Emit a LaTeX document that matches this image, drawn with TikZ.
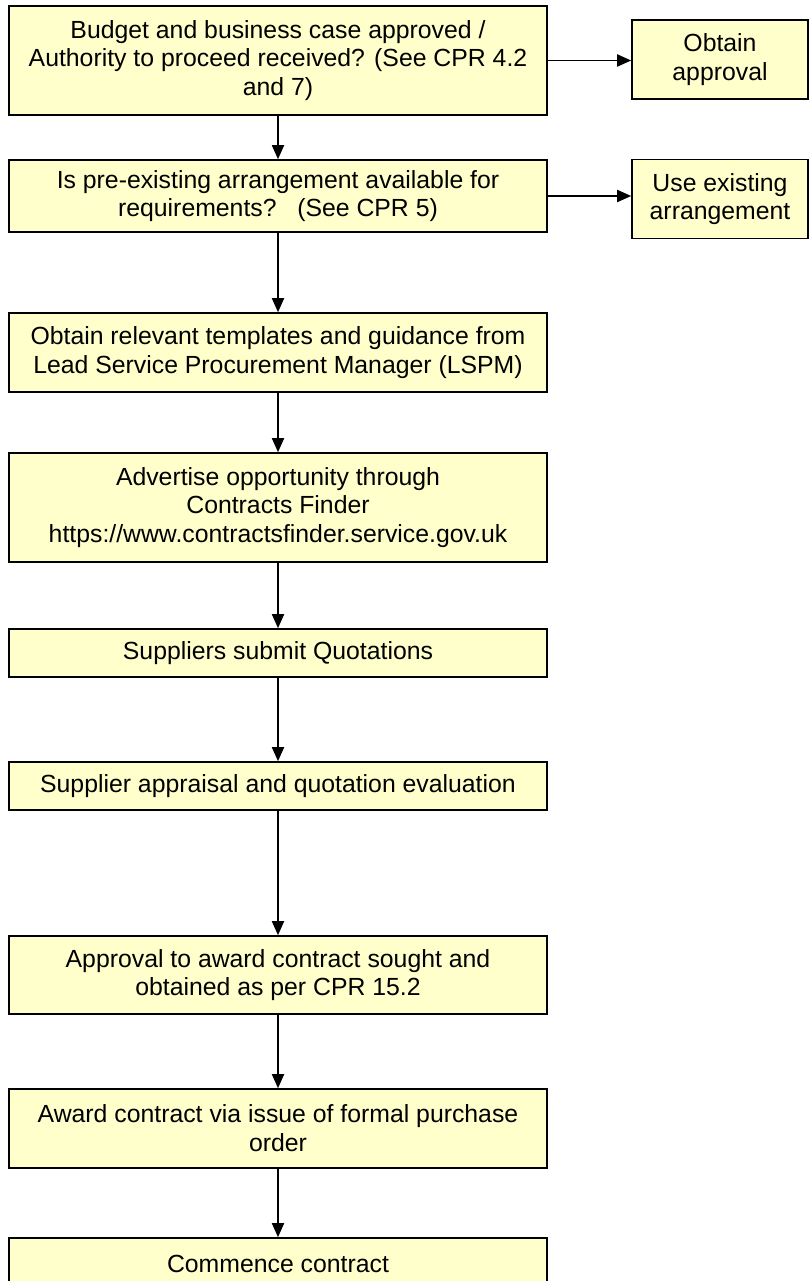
\documentclass[tikz,border=0pt]{standalone}
\usepackage{fontspec}
\setmainfont{Liberation Sans}
\usetikzlibrary{arrows.meta}
\definecolor{boxfill}{RGB}{255,255,204}

\begin{document}
\begin{tikzpicture}[x=1pt,y=-1pt]
\tikzset{stage/.style = {shape=rectangle,draw,fill=boxfill,line width=1.6pt,align=center,minimum width=538pt,inner sep=2pt,font=\fontsize{24.8}{28.8}\selectfont}}
\tikzset{side/.style = {stage,minimum width=176pt,minimum height=79pt}}
\tikzset{edge/.style = {-{Triangle[length=14pt,width=12pt]},line width=1.8pt}}

\useasboundingbox (0,0) rectangle (809,1281);

% stages

\node[stage,minimum height=109pt] (budget) at (278,60.5) {Budget and business case approved /\\Authority to proceed received? (See CPR 4.2\\and 7)};
\node[stage,minimum height=72pt] (existing) at (278,196) {Is pre-existing arrangement available for\\requirements?~~~(See CPR 5)};
\node[stage,minimum height=79pt] (templates) at (278,352.5) {Obtain relevant templates and guidance from\\Lead Service Procurement Manager (LSPM)};
\node[stage,minimum height=109pt] (advertise) at (278,507.5) {Advertise opportunity through\\Contracts Finder\\https://www.contractsfinder.service.gov.uk};
\node[stage,minimum height=48pt] (quotes) at (278,653) {Suppliers submit Quotations};
\node[stage,minimum height=48pt] (appraisal) at (278,786) {Supplier appraisal and quotation evaluation};
\node[stage,minimum height=78pt] (approval) at (278,975) {Approval to award contract sought and\\obtained as per CPR 15.2};
\node[stage,minimum height=79pt] (award) at (278,1128.5) {Award contract via issue of formal purchase\\order};
\node[stage,minimum height=52pt] (commence) at (278,1264) {Commence contract};

% side outcomes

\node[side] (obtain) at (720,59.5) {Obtain\\approval};
\node[side] (useexisting) at (720,199) {Use existing\\arrangement};

% edges

\draw[edge] (budget) to (existing);
\draw[edge] (existing) to (templates);
\draw[edge] (templates) to (advertise);
\draw[edge] (advertise) to (quotes);
\draw[edge] (quotes) to (appraisal);
\draw[edge] (appraisal) to (approval);
\draw[edge] (approval) to (award);
\draw[edge] (award) to (commence);

\draw[edge] (budget.east) to (budget.east -| obtain.west);
\draw[edge] (existing.east) to (existing.east -| useexisting.west);
\end{tikzpicture}
\end{document}
